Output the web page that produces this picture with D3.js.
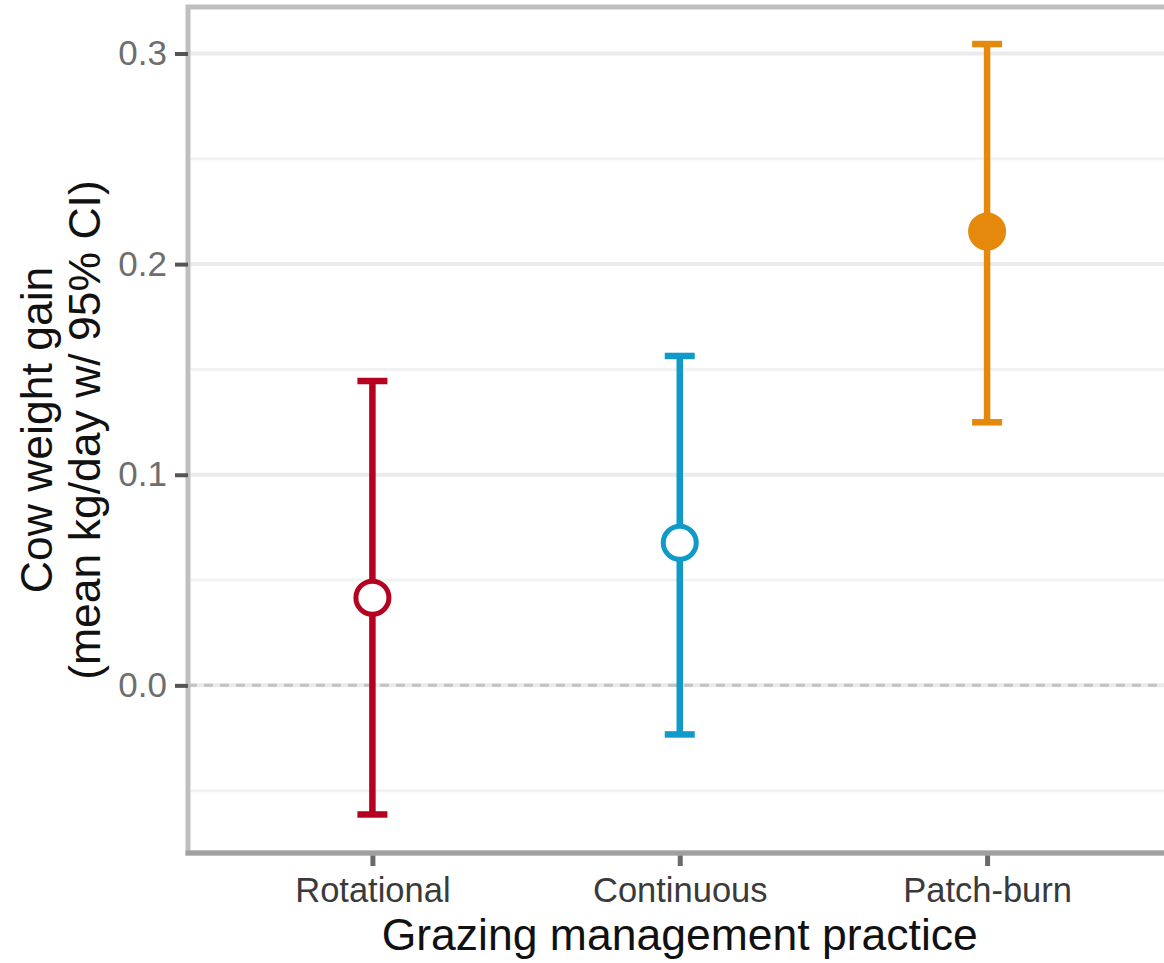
<!DOCTYPE html>
<html>
<head>
<meta charset="utf-8">
<script src="https://cdn.jsdelivr.net/npm/d3@7/dist/d3.min.js"></script>
<style>
  html, body { margin: 0; padding: 0; background: #ffffff; }
  svg { display: block; }
  text { font-family: "Liberation Sans", Arial, Helvetica, sans-serif; }
</style>
</head>
<body>
<svg id="chart" width="1164" height="963"></svg>
<script>
// Grazing practices and cow weight gain estimates (mean with 95% CI)
const categories = ["Rotational", "Continuous", "Patch-burn"];
const means = [0.0416, 0.0677, 0.2155];
const lower = [-0.0613, -0.0233, 0.1249];
const upper = [0.1445, 0.1564, 0.3045];
const filled = [false, false, true];
const colors = ["#b5001f", "#109ac9", "#e5890c"];
const majorTicks = [0.0, 0.1, 0.2, 0.3];
const minorTicks = [-0.05, 0.05, 0.15, 0.25];

const xTitle = "Grazing management practice";
const yTitle1 = "Cow weight gain";
const yTitle2 = "(mean kg/day w/ 95% CI)";

const svg = d3.select("#chart");
const panel = { left: 188, right: 1171.5, top: 7, bottom: 853 };

// y limits: data range expanded by 5% on each side
const lo = d3.min(lower), hi = d3.max(upper);
const pad = (hi - lo) * 0.05;
const y = d3.scaleLinear()
  .domain([lo - pad, hi + pad])
  .range([panel.bottom, panel.top - 1.5]);

const x = d3.scalePoint()
  .domain(categories)
  .range([panel.left, panel.right])
  .padding(0.6);

const rows = categories.map((c, i) => ({
  cat: c, mean: means[i], lo: lower[i], hi: upper[i],
  filled: filled[i], color: colors[i]
}));

// grid
const grid = svg.append("g");
grid.selectAll("line.minor").data(minorTicks).join("line")
  .attr("class", "minor")
  .attr("x1", panel.left).attr("x2", panel.right)
  .attr("y1", d => y(d)).attr("y2", d => y(d))
  .attr("stroke", "#f2f2f2").attr("stroke-width", 3);
grid.selectAll("line.major").data(majorTicks).join("line")
  .attr("class", "major")
  .attr("x1", panel.left).attr("x2", panel.right)
  .attr("y1", d => y(d)).attr("y2", d => y(d))
  .attr("stroke", "#ebebeb").attr("stroke-width", 4);

// reference line at zero
svg.append("line")
  .attr("x1", panel.left).attr("x2", panel.right)
  .attr("y1", y(0)).attr("y2", y(0))
  .attr("stroke", "#c2c2c2").attr("stroke-width", 3)
  .attr("stroke-dasharray", "9,7");

// error bars
const capHalf = 15;
const bars = svg.append("g").selectAll("g").data(rows).join("g")
  .attr("stroke", d => d.color).attr("stroke-width", 6.5);
bars.append("line")
  .attr("x1", d => x(d.cat)).attr("x2", d => x(d.cat))
  .attr("y1", d => y(d.lo)).attr("y2", d => y(d.hi));
bars.append("line")
  .attr("x1", d => x(d.cat) - capHalf).attr("x2", d => x(d.cat) + capHalf)
  .attr("y1", d => y(d.hi)).attr("y2", d => y(d.hi));
bars.append("line")
  .attr("x1", d => x(d.cat) - capHalf).attr("x2", d => x(d.cat) + capHalf)
  .attr("y1", d => y(d.lo)).attr("y2", d => y(d.lo));

// mean points
svg.append("g").selectAll("circle").data(rows).join("circle")
  .attr("cx", d => x(d.cat)).attr("cy", d => y(d.mean))
  .attr("r", 16.5)
  .attr("fill", d => d.filled ? d.color : "#ffffff")
  .attr("stroke", d => d.color).attr("stroke-width", 5);

// panel border
svg.append("rect")
  .attr("x", panel.left).attr("y", panel.top)
  .attr("width", panel.right - panel.left)
  .attr("height", panel.bottom - panel.top)
  .attr("fill", "none").attr("stroke", "#bfbfbf").attr("stroke-width", 5);
svg.append("line")
  .attr("x1", panel.left - 2.5).attr("x2", panel.right)
  .attr("y1", panel.bottom).attr("y2", panel.bottom)
  .attr("stroke", "#a0a0a0").attr("stroke-width", 5);

// axes
const yAxis = svg.append("g")
  .attr("transform", `translate(${panel.left},0)`)
  .call(d3.axisLeft(y).tickValues(majorTicks).tickFormat(d3.format(".1f"))
    .tickSizeInner(13).tickSizeOuter(0).tickPadding(8));
yAxis.select(".domain").remove();
yAxis.selectAll(".tick line").attr("stroke", "#555555").attr("stroke-width", 4);
yAxis.selectAll(".tick text")
  .attr("fill", "#6e6e6e").attr("font-size", 35)
  .attr("font-family", "'Liberation Sans', Arial, sans-serif");

const xAxis = svg.append("g")
  .attr("transform", `translate(0,${panel.bottom})`)
  .call(d3.axisBottom(x).tickSizeInner(13).tickSizeOuter(0).tickPadding(12));
xAxis.select(".domain").remove();
xAxis.selectAll(".tick line").attr("stroke", "#6a6a6a").attr("stroke-width", 5)
  .attr("y1", 2.5);
xAxis.selectAll(".tick text")
  .attr("fill", "#3a3a3a").attr("font-size", 34.5)
  .attr("font-family", "'Liberation Sans', Arial, sans-serif");

// titles
svg.append("text")
  .attr("x", (panel.left + panel.right) / 2).attr("y", 950)
  .attr("text-anchor", "middle").attr("font-size", 44.5).attr("fill", "#111111")
  .text(xTitle);

const yMid = (panel.top + panel.bottom) / 2;
svg.append("text")
  .attr("transform", `translate(52,${yMid}) rotate(-90)`)
  .attr("text-anchor", "middle").attr("font-size", 44.5).attr("fill", "#111111")
  .text(yTitle1);
svg.append("text")
  .attr("transform", `translate(100,${yMid}) rotate(-90)`)
  .attr("text-anchor", "middle").attr("font-size", 44.5).attr("fill", "#111111")
  .text(yTitle2);
</script>
</body>
</html>
